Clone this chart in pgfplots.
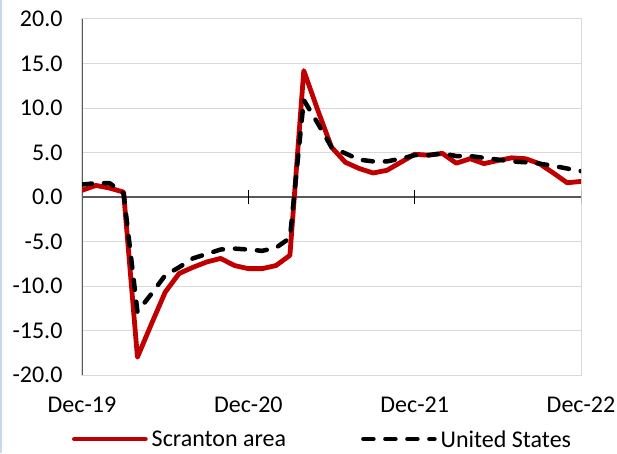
\documentclass[border=0pt]{standalone}
\usepackage{pgfplots}
\pgfplotsset{compat=1.18}
\usepackage{fontspec}
\setmainfont{Carlito}
\definecolor{scr}{HTML}{C00000}
\definecolor{axgray}{HTML}{595959}
\definecolor{gridgray}{HTML}{D9D9D9}
\definecolor{edgeblue}{HTML}{C9D7EE}
\begin{document}
\begin{tikzpicture}
\begin{axis}[
  at={(0,0)}, anchor=south west,
  scale only axis, width=499pt, height=356pt,
  xmin=0, xmax=36, ymin=-20, ymax=20,
  xtick={0,12,24,36},
  xticklabels={Dec-19,Dec-20,Dec-21,Dec-22},
  ytick={-20,-15,...,20},
  ymajorgrids, grid style={gridgray, line width=1pt},
  major tick length=0pt,
  axis line style={gridgray, line width=1pt},
  tick label style={font=\fontsize{24}{28}\selectfont},
  /pgf/number format/assume math mode=true,
  yticklabel style={/pgf/number format/.cd, fixed, fixed zerofill, precision=1, /tikz/.cd, xshift=-16pt},
  xticklabel style={yshift=-18pt},
  legend columns=2,
  legend style={draw=none, fill=none, at={(0.484,-0.180)}, anchor=center,
    font=\fontsize{24}{28}\selectfont, inner sep=0pt,
    nodes={inner xsep=4pt, inner ysep=0pt, text depth=0pt},
    /tikz/every even column/.append style={column sep=71pt}},
  legend image code/.code={\draw[#1] (0pt,0pt) -- (71pt,0pt);},
]
\draw[axgray, line width=1.5pt] (axis cs:0,0) -- (axis cs:36,0);
\draw[axgray, line width=1.5pt] (axis cs:0,-20) -- (axis cs:0,20);
\draw[black, line width=1pt] ([yshift=-7pt]axis cs:12,0) -- ([yshift=7pt]axis cs:12,0);
\draw[black, line width=1pt] ([yshift=-7pt]axis cs:24,0) -- ([yshift=7pt]axis cs:24,0);
\draw[black, line width=1pt] ([yshift=-7pt]axis cs:36,0) -- ([yshift=7pt]axis cs:36,0);
\addplot[scr, line width=4.8pt, line join=round, line cap=round] coordinates {
(0,0.75)(1,1.3)(2,1.0)(3,0.55)(4,-18.0)(5,-14.3)(6,-10.7)(7,-8.6)(8,-7.9)(9,-7.3)
(10,-6.9)(11,-7.7)(12,-8.05)(13,-8.05)(14,-7.7)(15,-6.55)(16,14.2)(17,9.8)(18,5.6)(19,3.9)
(20,3.2)(21,2.7)(22,3.0)(23,3.9)(24,4.8)(25,4.7)(26,4.9)(27,3.8)(28,4.3)(29,3.75)
(30,4.1)(31,4.4)(32,4.3)(33,3.75)(34,2.7)(35,1.6)(36,1.75)
};
\addlegendentry{Scranton area}
\addplot[black, line width=4.5pt, line join=round, line cap=round, dash pattern=on 10pt off 12pt] coordinates {
(0,1.4)(1,1.55)(2,1.55)(3,0.4)(4,-12.9)(5,-10.9)(6,-8.8)(7,-7.9)(8,-6.9)(9,-6.4)
(10,-5.9)(11,-5.8)(12,-5.9)(13,-6.05)(14,-5.7)(15,-4.6)(16,10.9)(17,8.3)(18,5.6)(19,4.9)
(20,4.2)(21,4.0)(22,4.0)(23,4.3)(24,4.7)(25,4.7)(26,4.9)(27,4.6)(28,4.6)(29,4.4)
(30,4.2)(31,4.0)(32,3.9)(33,3.75)(34,3.5)(35,3.2)(36,2.9)
};
\addlegendentry{United States}
\end{axis}
\fill[edgeblue] (-82pt,-78pt) rectangle (-80pt,375pt);
\pgfresetboundingbox
\useasboundingbox (-82pt,-78pt) rectangle (535pt,375pt);
\end{tikzpicture}
\end{document}
